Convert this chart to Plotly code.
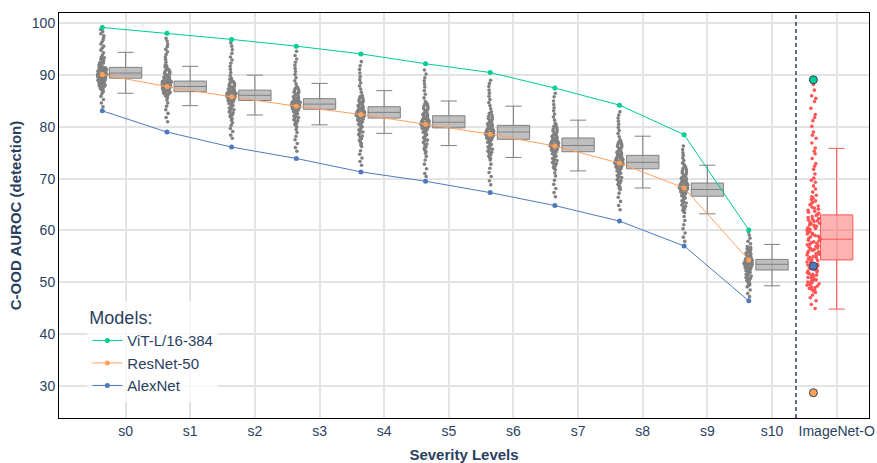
import plotly.graph_objects as go

# ---------------- data ----------------
severity_labels = ["s0", "s1", "s2", "s3", "s4", "s5", "s6", "s7", "s8", "s9", "s10"]
ood_label = "ImageNet-O"

vit_auroc = [99.2, 98.1, 96.9, 95.6, 94.1, 92.2, 90.5, 87.5, 84.2, 78.5, 60.1]
resnet_auroc = [90.1, 87.8, 85.8, 84.0, 82.4, 80.5, 78.6, 76.3, 73.0, 68.2, 54.3]
alexnet_auroc = [83.1, 79.0, 76.1, 73.9, 71.3, 69.5, 67.3, 64.8, 61.8, 57.0, 46.4]
ood_vit = 89.1
ood_resnet = 28.65
ood_alexnet = 53.1

box_q1 = [89.4, 86.8, 85.1, 83.4, 81.7, 79.8, 77.6, 75.2, 71.9, 66.6, 52.35]
box_median = [90.4, 87.8, 86.1, 84.4, 82.8, 80.9, 79.0, 76.4, 73.15, 67.9, 53.45]
box_q3 = [91.5, 88.85, 87.1, 85.45, 83.9, 82.15, 80.3, 77.85, 74.5, 69.15, 54.4]
box_lower = [86.5, 84.1, 82.3, 80.4, 78.75, 76.4, 74.1, 71.5, 68.2, 63.2, 49.3]
box_upper = [94.4, 91.7, 90.0, 88.4, 87.0, 85.0, 84.0, 81.3, 78.2, 72.6, 57.3]
ood_q1, ood_median, ood_q3, ood_lower, ood_upper = 54.3, 58.3, 63.0, 44.8, 75.85

s0_points = [83.9, 84.6, 85.3, 85.9, 86.4, 86.8,
             87.1, 87.4, 87.7, 87.9, 88.1, 88.3, 88.5, 88.6, 88.8, 88.9, 89.0, 89.1, 89.2, 89.3,
             89.4, 89.5, 89.6, 89.7, 89.8, 89.9, 90.0, 90.0, 90.1, 90.2, 90.3, 90.4, 90.5, 90.6,
             90.7, 90.8, 90.9, 91.0, 91.1, 91.2, 91.4, 91.5, 91.7, 91.9, 92.1, 92.3, 92.6, 92.9,
             93.2, 93.5,
             87.05, 87.3, 87.55, 87.8, 88.0, 88.2, 88.35, 88.45, 88.55, 88.7, 88.75, 88.85, 88.95,
             89.05, 89.15, 89.25, 89.35, 89.45, 89.55, 89.65, 89.75, 89.85, 89.95, 90.05, 90.15,
             90.25, 90.35, 90.45, 90.55, 90.65, 90.75, 90.85, 90.95, 91.05, 91.15, 91.3, 91.45,
             91.6, 91.8, 92.0, 92.2, 92.45, 92.75, 93.05, 93.35,
             93.9, 94.3, 94.8, 95.2, 95.6, 96.0, 96.4, 96.8, 97.2, 97.6, 98.0, 98.4, 98.8]
s1_points = [81.0, 81.8, 82.6, 83.3, 84.0, 84.6, 85.2,
             85.7, 86.0, 86.3, 86.5, 86.7, 86.9, 87.0, 87.1, 87.2, 87.3, 87.4, 87.5, 87.6, 87.7,
             87.8, 87.9, 88.0, 88.1, 88.2, 88.3, 88.4, 88.5, 88.6, 88.7, 88.8, 88.9, 89.0, 89.2,
             89.4, 89.6, 89.8, 90.0, 90.3, 90.6, 90.9, 91.2, 91.6, 92.0,
             85.85, 86.15, 86.4, 86.6, 86.8, 86.95, 87.05, 87.15, 87.25, 87.35, 87.45, 87.55,
             87.65, 87.75, 87.85, 87.95, 88.05, 88.15, 88.25, 88.35, 88.45, 88.55, 88.65, 88.75,
             88.85, 88.95, 89.1, 89.3, 89.5, 89.7, 89.9, 90.15, 90.45, 90.75, 91.05, 91.4, 91.8,
             92.5, 93.0, 93.5, 94.0, 94.5, 95.0, 95.5, 96.0, 96.6, 97.1]
s2_points = [77.8, 78.4, 79.1, 79.7, 80.3, 80.8,
             81.3, 81.8, 82.3, 82.7, 83.1, 83.5, 83.8, 84.1, 84.4, 84.6, 84.8, 85.0, 85.2, 85.4,
             85.5, 85.6, 85.7, 85.8, 85.9, 86.0, 86.1, 86.2, 86.3, 86.4, 86.5, 86.6, 86.7, 86.8,
             87.0, 87.2, 87.4, 87.6, 87.8, 88.1, 88.4, 88.7, 89.0, 89.4,
             81.55, 82.05, 82.5, 82.9, 83.3, 83.65, 83.95, 84.25, 84.5, 84.7, 84.9, 85.1, 85.3,
             85.45, 85.55, 85.65, 85.75, 85.85, 85.95, 86.05, 86.15, 86.25, 86.35, 86.45, 86.55,
             86.65, 86.75, 86.9, 87.1, 87.3, 87.5, 87.7, 87.95, 88.25, 88.55, 88.85, 89.2,
             89.9, 90.5, 91.1, 91.7, 92.3, 92.9, 93.5, 94.2, 94.9, 95.6, 96.2]
s3_points = [75.3, 76.0, 76.8, 77.5, 78.2, 78.9, 79.5,
             80.0, 80.5, 81.0, 81.4, 81.8, 82.1, 82.4, 82.7, 82.9, 83.1, 83.3, 83.5, 83.6, 83.7,
             83.8, 83.9, 84.0, 84.1, 84.2, 84.3, 84.4, 84.5, 84.6, 84.7, 84.8, 85.0, 85.2, 85.4,
             85.6, 85.8, 86.1, 86.4, 86.7, 87.0, 87.4, 87.8,
             80.25, 80.75, 81.2, 81.6, 81.95, 82.25, 82.55, 82.8, 83.0, 83.2, 83.4, 83.55, 83.65,
             83.75, 83.85, 83.95, 84.05, 84.15, 84.25, 84.35, 84.45, 84.55, 84.65, 84.75, 84.9,
             85.1, 85.3, 85.5, 85.7, 85.95, 86.25, 86.55, 86.85, 87.2, 87.6,
             88.3, 88.9, 89.5, 90.1, 90.7, 91.3, 91.9, 92.5, 93.1, 93.8, 94.6]
s4_points = [72.6, 73.3, 74.0, 74.7, 75.4,
             76.2, 76.8, 77.4, 78.0, 78.5, 79.0, 79.4, 79.8, 80.2, 80.5, 80.8, 81.1, 81.3, 81.5,
             81.7, 81.9, 82.0, 82.1, 82.2, 82.3, 82.4, 82.5, 82.6, 82.7, 82.8, 83.0, 83.2, 83.4,
             83.6, 83.8, 84.1, 84.4, 84.7, 85.0, 85.4, 85.8, 86.1,
             76.5, 77.1, 77.7, 78.25, 78.75, 79.2, 79.6, 80.0, 80.35, 80.65, 80.95, 81.2, 81.4,
             81.6, 81.8, 81.95, 82.05, 82.15, 82.25, 82.35, 82.45, 82.55, 82.65, 82.75, 82.9,
             83.1, 83.3, 83.5, 83.7, 83.95, 84.25, 84.55, 84.85, 85.2, 85.6,
             86.7, 87.3, 87.9, 88.5, 89.1, 89.7, 90.4, 91.1, 91.8, 92.6]
s5_points = [70.4, 71.0, 71.9, 72.8, 73.6, 74.3,
             74.9, 75.5, 76.1, 76.7, 77.2, 77.7, 78.1, 78.5, 78.8, 79.1, 79.4, 79.6, 79.8, 80.0,
             80.1, 80.2, 80.3, 80.4, 80.5, 80.6, 80.7, 80.8, 80.9, 81.0, 81.2, 81.4, 81.6, 81.8,
             82.0, 82.3, 82.6, 82.9, 83.3, 83.7, 84.1, 84.5, 84.9,
             75.2, 75.8, 76.4, 76.95, 77.45, 77.9, 78.3, 78.65, 78.95, 79.25, 79.5, 79.7, 79.9,
             80.05, 80.15, 80.25, 80.35, 80.45, 80.55, 80.65, 80.75, 80.85, 80.95, 81.1, 81.3,
             81.5, 81.7, 81.9, 82.15, 82.45, 82.75, 83.1, 83.5, 83.9, 84.3, 84.7,
             85.6, 86.3, 87.0, 87.7, 88.3, 88.9, 89.5, 90.2, 91.0]
s6_points = [68.8, 69.6, 70.4, 71.2, 72.0, 72.8,
             73.6, 74.1, 74.6, 75.1, 75.5, 75.9, 76.3, 76.6, 76.9, 77.2, 77.5, 77.7, 77.9, 78.1,
             78.2, 78.3, 78.4, 78.5, 78.6, 78.7, 78.8, 78.9, 79.0, 79.1, 79.3, 79.5, 79.7, 79.9,
             80.1, 80.4, 80.7, 81.0, 81.4, 81.8, 82.3, 82.9,
             73.85, 74.35, 74.85, 75.3, 75.7, 76.1, 76.45, 76.75, 77.05, 77.35, 77.6, 77.8, 78.0,
             78.15, 78.25, 78.35, 78.45, 78.55, 78.65, 78.75, 78.85, 78.95, 79.05, 79.2, 79.4,
             79.6, 79.8, 80.0, 80.25, 80.55, 80.85, 81.2, 81.6, 82.05, 82.6,
             83.5, 84.1, 84.7, 85.3, 85.9, 86.5, 87.1, 87.8, 88.4, 89.0]
s7_points = [66.5, 67.3, 68.1, 68.9, 69.7, 70.5, 71.1,
             71.7, 72.2, 72.7, 73.1, 73.5, 73.9, 74.2, 74.5, 74.8, 75.1, 75.3, 75.5, 75.7, 75.9,
             76.0, 76.1, 76.2, 76.3, 76.4, 76.5, 76.6, 76.7, 76.8, 76.9, 77.1, 77.3, 77.5, 77.7,
             77.9, 78.2, 78.5, 78.8, 79.2, 79.6, 80.1, 80.7,
             71.95, 72.45, 72.9, 73.3, 73.7, 74.05, 74.35, 74.65, 74.95, 75.2, 75.4, 75.6, 75.8,
             75.95, 76.05, 76.15, 76.25, 76.35, 76.45, 76.55, 76.65, 76.75, 76.85, 77.0, 77.2,
             77.4, 77.6, 77.8, 78.05, 78.35, 78.65, 79.0, 79.4, 79.85, 80.4,
             81.3, 81.9, 82.5, 83.1, 83.7, 84.3, 85.0, 85.8, 86.5]
s8_points = [64.0, 64.8, 65.6, 66.4, 67.2,
             67.9, 68.4, 68.9, 69.4, 69.8, 70.2, 70.6, 70.9, 71.2, 71.5, 71.8, 72.0, 72.2, 72.4,
             72.6, 72.7, 72.8, 72.9, 73.0, 73.1, 73.2, 73.3, 73.4, 73.5, 73.7, 73.9, 74.1, 74.3,
             74.5, 74.8, 75.1, 75.4, 75.8, 76.2, 76.6, 77.0, 77.5,
             68.15, 68.65, 69.15, 69.6, 70.0, 70.4, 70.75, 71.05, 71.35, 71.65, 71.9, 72.1, 72.3,
             72.5, 72.65, 72.75, 72.85, 72.95, 73.05, 73.15, 73.25, 73.35, 73.45, 73.6, 73.8,
             74.0, 74.2, 74.4, 74.65, 74.95, 75.25, 75.6, 76.0, 76.4, 76.8, 77.25,
             78.1, 78.7, 79.3, 79.9, 80.5, 81.1, 81.7, 82.3, 82.9]
s9_points = [57.9, 58.7, 59.5, 60.3, 61.1, 61.9, 62.7,
             63.4, 63.9, 64.4, 64.9, 65.3, 65.7, 66.1, 66.4, 66.7, 67.0, 67.2, 67.4, 67.6, 67.8,
             67.9, 68.0, 68.1, 68.2, 68.3, 68.4, 68.5, 68.6, 68.7, 68.8, 69.0, 69.2, 69.4, 69.6,
             69.8, 70.1, 70.4, 70.7, 71.1, 71.5, 72.0, 72.5, 73.0,
             63.65, 64.15, 64.65, 65.1, 65.5, 65.9, 66.25, 66.55, 66.85, 67.1, 67.3, 67.5, 67.7,
             67.85, 67.95, 68.05, 68.15, 68.25, 68.35, 68.45, 68.55, 68.65, 68.75, 68.9, 69.1,
             69.3, 69.5, 69.7, 69.95, 70.25, 70.55, 70.9, 71.3, 71.75, 72.25, 72.75,
             73.5, 74.0, 74.5, 75.0, 75.6, 76.3]
s10_points = [47.2, 47.8, 48.5,
              49.1, 49.5, 49.9, 50.3, 50.6, 50.9, 51.2, 51.5, 51.8, 52.0, 52.2, 52.4, 52.6, 52.8,
              53.0, 53.1, 53.2, 53.3, 53.4, 53.5, 53.6, 53.7, 53.8, 53.9, 54.0, 54.2, 54.4, 54.6,
              54.8, 55.0, 55.3, 55.6, 55.9, 56.2, 56.5, 56.9,
              49.3, 49.7, 50.1, 50.45, 50.75, 51.05, 51.35, 51.65, 51.9, 52.1, 52.3, 52.5, 52.7,
              52.9, 53.05, 53.15, 53.25, 53.35, 53.45, 53.55, 53.65, 53.75, 53.85, 53.95, 54.1,
              54.3, 54.5, 54.7, 54.9, 55.15, 55.45, 55.75, 56.05, 56.35, 56.7,
              57.4, 57.9, 58.5, 59.1, 59.7]
imagenet_o_points = [88.2, 87.1, 86.0, 85.5, 84.9, 83.6, 82.4, 81.8, 81.2, 80.1, 79.0, 78.4,
                     77.8, 76.9, 75.9, 75.3, 74.8, 73.9, 72.9, 72.4, 71.8, 70.9, 70.1, 69.7,
                     69.3, 68.6, 68.0, 67.4,
                     66.8, 66.2, 65.7, 65.2, 64.7, 64.3, 63.9, 63.5, 63.1, 62.7, 62.3, 62.0,
                     61.7, 61.4, 61.1, 60.8, 60.5, 60.2, 59.9, 59.6, 59.3, 59.0, 58.7, 58.4,
                     58.1, 57.8, 57.5, 57.2, 56.9, 56.6, 56.3, 56.0, 55.7, 55.4, 55.1, 54.8,
                     54.5, 54.2, 53.9, 53.6, 53.3, 53.0, 52.7, 52.4, 52.1, 51.8, 51.5, 51.2,
                     50.9, 50.6, 50.3, 50.0, 49.7, 49.4, 49.1, 48.8, 48.5,
                     66.5, 65.95, 65.45, 64.95, 64.5, 64.1, 63.7, 63.3, 62.9, 62.5, 62.15, 61.85,
                     61.55, 61.25, 60.95, 60.65, 60.35, 60.05, 59.75, 59.45, 59.15, 58.85, 58.55,
                     58.25, 57.95, 57.65, 57.35, 57.05, 56.75, 56.45, 56.15, 55.85, 55.55, 55.25,
                     54.95, 54.65, 54.35, 54.05, 53.75, 53.45, 53.15, 52.85, 52.55, 52.25, 51.95,
                     51.65, 51.35, 51.05, 50.75, 50.45, 50.15, 49.85, 49.55, 49.25, 48.95, 48.65,
                     48.3, 48.0, 47.5, 47.0, 46.4, 45.7, 44.9]

severity_points = [s0_points, s1_points, s2_points, s3_points, s4_points, s5_points,
                   s6_points, s7_points, s8_points, s9_points, s10_points]

# ---------------- style ----------------
TXT = "#2a3f5f"
GREEN = "#00CC96"
ORANGE = "#FFA15A"
BLUE = "#5079BC"
GRAY = "#808080"
RED = "rgb(255,85,85)"
POINT_SHIFT = 0.36   # points / model markers sit left of each box
BOX_W = 0.5

n = len(severity_labels)
box_pos = list(range(n))
ood_pos = n
pt_pos = [p - POINT_SHIFT for p in box_pos]
ood_pt_pos = ood_pos - POINT_SHIFT

fig = go.Figure()

# sample clouds
for p, pts in zip(pt_pos, severity_points):
    fig.add_trace(go.Box(
        x=[p] * len(pts), y=pts, boxpoints="all", jitter=0.3, pointpos=0, width=BOX_W,
        line=dict(width=0, color="rgba(0,0,0,0)"), fillcolor="rgba(0,0,0,0)",
        marker=dict(color=GRAY, size=3.6), showlegend=False, hoveron="points"))
fig.add_trace(go.Box(
    x=[ood_pt_pos] * len(imagenet_o_points), y=imagenet_o_points, boxpoints="all",
    jitter=0.4, pointpos=0, width=BOX_W,
    line=dict(width=0, color="rgba(0,0,0,0)"), fillcolor="rgba(0,0,0,0)",
    marker=dict(color=RED, size=3.6), showlegend=False, hoveron="points"))

# summary boxes
fig.add_trace(go.Box(
    x=box_pos, q1=box_q1, median=box_median, q3=box_q3,
    lowerfence=box_lower, upperfence=box_upper, width=BOX_W,
    fillcolor="rgba(128,128,128,0.5)", line=dict(color=GRAY, width=1),
    boxpoints=False, showlegend=False))
fig.add_trace(go.Box(
    x=[ood_pos], q1=[ood_q1], median=[ood_median], q3=[ood_q3],
    lowerfence=[ood_lower], upperfence=[ood_upper], width=BOX_W,
    fillcolor="rgba(255,85,85,0.45)", line=dict(color=RED, width=1),
    boxpoints=False, showlegend=False))

# model lines
for name, vals, col in [("ViT-L/16-384", vit_auroc, GREEN),
                        ("ResNet-50", resnet_auroc, ORANGE),
                        ("AlexNet", alexnet_auroc, BLUE)]:
    fig.add_trace(go.Scatter(x=pt_pos, y=vals, mode="lines+markers", name=name,
                             line=dict(color=col, width=1), marker=dict(color=col, size=5)))

# ImageNet-O model markers
for vals, col in [(ood_vit, GREEN), (ood_alexnet, BLUE), (ood_resnet, ORANGE)]:
    fig.add_trace(go.Scatter(x=[ood_pt_pos], y=[vals], mode="markers", showlegend=False,
                             marker=dict(color=col, size=8, line=dict(color="#2f3e55", width=1))))

fig.add_shape(type="line", xref="x", yref="paper", x0=10.37, x1=10.37, y0=0, y1=1,
              line=dict(color=TXT, width=1.5, dash="4px,3px"))

axis_common = dict(showgrid=True, gridcolor="#e3e3e3", gridwidth=1.5, showline=True,
                   linecolor="black", linewidth=1, mirror=True, zeroline=False,
                   automargin=False, tickfont=dict(size=14, color=TXT))

fig.update_layout(
    width=877, height=463,
    margin=dict(l=59, r=8, t=13, b=45),
    paper_bgcolor="white", plot_bgcolor="white",
    font=dict(family="Liberation Sans, Arial, sans-serif", color=TXT, size=14),
    boxmode="overlay",
    legend=dict(title=dict(text="Models:", font=dict(size=18)), font=dict(size=15),
                x=0.035, y=0.04, xanchor="left", yanchor="bottom",
                bgcolor="rgba(255,255,255,0.7)", tracegroupgap=0),
    xaxis=dict(axis_common, range=[-1.03, 11.5], tickvals=list(range(n + 1)),
               ticktext=severity_labels + [ood_label], ticks="",
               title=dict(text="<b>Severity Levels</b>", font=dict(size=15, color=TXT))),
    yaxis=dict(axis_common, range=[23.76, 102], tickvals=[30, 40, 50, 60, 70, 80, 90, 100],
               ticks="",
               title=dict(text="<b>C-OOD AUROC (detection)</b>", standoff=6,
                          font=dict(size=15, color=TXT))),
)

# remove the default page margin so the full 877x463 figure fits the window
fig.write_html("out.html",
               config={"displayModeBar": False},
               post_script="document.body.style.margin='0';"
                           "document.documentElement.style.overflow='hidden';")
